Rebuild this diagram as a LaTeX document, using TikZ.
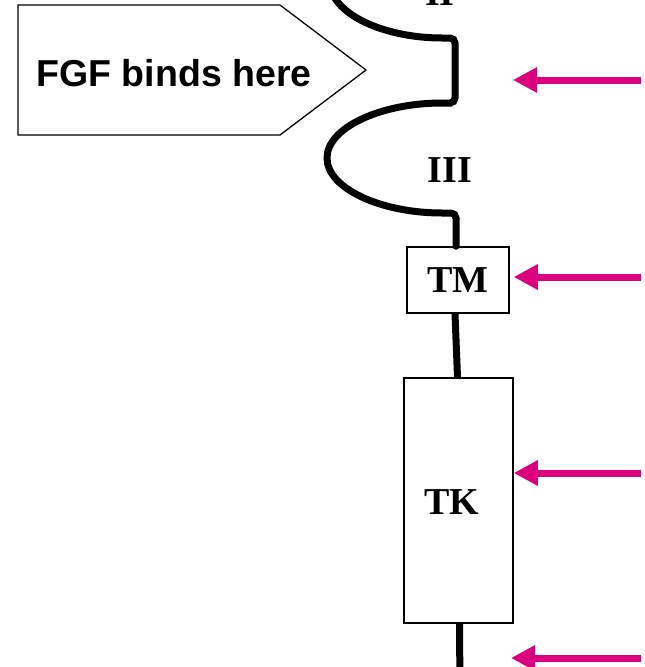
\documentclass[tikz,border=0pt]{standalone}
\usepackage{fontspec}
\setmainfont{Liberation Serif}
\newfontfamily\labelsans{Liberation Sans}
\usetikzlibrary{arrows.meta}
\definecolor{pinkarrow}{RGB}{220,0,127}
\tikzset{
  backbone/.style={line width=7pt, line cap=round, rounded corners=5pt},
  domainbox/.style={draw, line width=1.5pt, fill=white, inner sep=0pt,
    font=\bfseries\fontsize{38}{40}\selectfont},
  domainlabel/.style={font=\bfseries\fontsize{38}{40}\selectfont},
  pinkarrowstyle/.style={pinkarrow, line width=7pt,
    -{Triangle[length=24pt,width=24pt]}},
  callout/.style={draw, line width=1.3pt, line join=miter}
}
\begin{document}
\begin{tikzpicture}[x=1pt,y=1pt]
\useasboundingbox (0,0) rectangle (645,-667);
% callout pentagon
\draw[callout] (18,-5) -- (280,-5) -- (366,-70) -- (280,-135) -- (18,-135) -- cycle;
\node[font=\labelsans\bfseries\fontsize{37.5}{40}\selectfont] (fgf) at (174,-73) {FGF binds here};
% domain boxes
\node[domainbox, minimum width=102pt, minimum height=66pt] (tm) at (458,-280) {TM};
\node[domainbox, minimum width=109pt, minimum height=245pt] (tk) at (458.5,-500.5) {};
\node[domainlabel] (tklabel) at (452,-502) {TK};
% backbone with loops
\draw[backbone] (330,18) arc[start angle=180,end angle=270,x radius=117pt,y radius=56pt]
  -- (455,-38) -- (455,-103) -- (447,-103)
  arc[start angle=90,end angle=270,x radius=120pt,y radius=55pt]
  -- (456,-213) -- ([xshift=-2pt]tm.north);
\draw[line width=7pt] ([xshift=-3pt]tm.south) -- ([xshift=-1pt]tk.north);
\coordinate (tail) at (460,-690);
\draw[line width=7pt] ([xshift=1pt]tk.south) -- (tail);
\node[domainlabel] (lII) at (440,7) {II};
\node[domainlabel] (lIII) at (450,-170) {III};
% arrows
\coordinate (s1) at (641,-80);
\coordinate (t1) at (513,-80);
\coordinate (s2) at (641,-277);
\coordinate (s3) at (641,-473);
\coordinate (s4) at (641,-658);
\coordinate (t4) at (511,-658);
\draw[pinkarrowstyle] (s1) -- (t1);
\draw[pinkarrowstyle] (s2) -- ([xshift=4pt]tm.east |- s2);
\draw[pinkarrowstyle] (s3) -- ([xshift=0pt]tk.east |- s3);
\draw[pinkarrowstyle] (s4) -- (t4);
\end{tikzpicture}
\end{document}
